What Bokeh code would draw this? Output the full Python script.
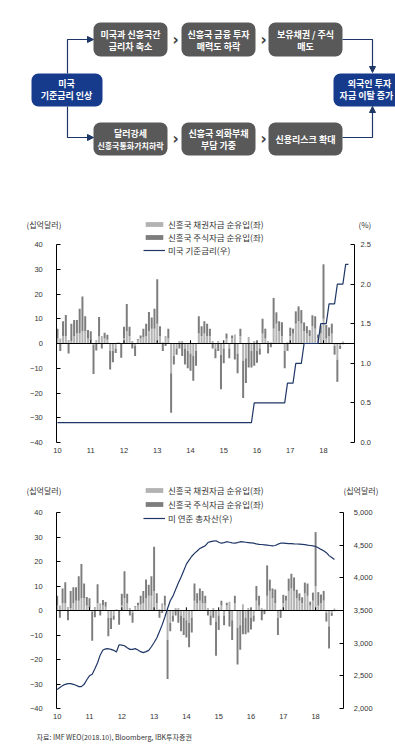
import numpy as np
from bokeh.plotting import figure
from bokeh.layouts import column
from bokeh.models import (Range1d, LinearAxis, Legend, LegendItem, Label,
                          FixedTicker, NumeralTickFormatter, Arrow, NormalHead)
from bokeh.core.properties import value
from bokeh.embed import file_html
from bokeh.resources import INLINE

KR = "Noto Sans CJK KR"
NUM = "Liberation Sans"

# ---------------- data (monthly, Jan 2010 = month 0) ----------------
start_year = 2010
bond = [2, 2, 3, 3, 1.4, 1, 3, 4, 4, 5, 5, 2,
        1, -0.5, 1.4, 3, 3, 2, 1.5, -3, -3, -2, 0.5, 0,
        2, 5, 3, 1, -1, 1.5, 2, 2.5, 3, 5, 6, 6,
        8, 3, 0.5, 3, 2, -12, -5, -2, 1, 1, -2, -3,
        -4, -5, -3, 4, 3, 4, 3, 3, 1, -2, 1, -4.5,
        -2, 2, -2, 2, 3.6, -4, 3, -7, -6, 2.6, -3, 1,
        -3, -2, 4, 2, 1, 0.5, 6, 8, 5, 3, -3, 0.5,
        3, 4, 8, 9, 8, 5, 4, 3, 7, 6, 2, 4,
        10, 2, 3, 4, -1, -6.5, -1, 0.8]
equity = [4, -3, 6, 8.5, -4, 7, 6.5, 5.5, 10, 14, 6, 3.5,
          4, -11.8, -2.8, 7.7, -2, 2.3, 2, -7.5, -4.6, -1.8, 0, -5.8,
          4.8, 11, 3.8, -2, -4, 0.3, 1.2, 3.5, 5, 7.7, 4.5, 8,
          18, 4, -3, -1, 4, -16, -3.5, -2.5, -2, -5, -6.5, -7,
          -7, -10, -6, 7, 4, 5, 5, 3, -2, -4, -3, -14,
          -6, 2, -4, 1.2, -6.5, -8, 3, -15, -10, -9.7, -6.7, -9,
          -4.8, -2.5, 6, 4, -4, -1.5, 12.4, 4.6, 4, 5.6, -7, -3,
          3.4, 2, 5, 6, 5.5, 3.5, 3, 2.4, 4.4, 5, 1.6, 3.3,
          22, 5.5, 3.5, 4, -3.5, -9, -1.2, -0.3]
fed_rate = [
    0.25, 0.25, 0.25, 0.25, 0.25, 0.25, 0.25, 0.25, 0.25, 0.25, 0.25, 0.25,
    0.25, 0.25, 0.25, 0.25, 0.25, 0.25, 0.25, 0.25, 0.25, 0.25, 0.25, 0.25,
    0.25, 0.25, 0.25, 0.25, 0.25, 0.25, 0.25, 0.25, 0.25, 0.25, 0.25, 0.25,
    0.25, 0.25, 0.25, 0.25, 0.25, 0.25, 0.25, 0.25, 0.25, 0.25, 0.25, 0.25,
    0.25, 0.25, 0.25, 0.25, 0.25, 0.25, 0.25, 0.25, 0.25, 0.25, 0.25, 0.25,
    0.25, 0.25, 0.25, 0.25, 0.25, 0.25, 0.25, 0.25, 0.25, 0.25, 0.25, 0.5,
    0.5, 0.5, 0.5, 0.5, 0.5, 0.5, 0.5, 0.5, 0.5, 0.5, 0.5, 0.75,
    0.75, 0.75, 1.0, 1.0, 1.0, 1.25, 1.25, 1.25, 1.25, 1.25, 1.25, 1.5,
    1.5, 1.5, 1.75, 1.75, 1.75, 2.0, 2.0, 2.0, 2.25, 2.25]
fed_assets = [
    2290, 2320, 2350, 2370, 2381, 2381, 2370, 2355, 2335, 2335, 2370, 2440,
    2500, 2524, 2610, 2700, 2820, 2895, 2912, 2915, 2905, 2890, 2864, 2976,
    2970, 2960, 2930, 2905, 2905, 2916, 2895, 2870, 2855, 2870, 2890, 2945,
    3010, 3080, 3180, 3280, 3400, 3530, 3650, 3720, 3820, 3920, 4010, 4110,
    4210, 4270, 4330, 4375, 4410, 4450, 4470, 4490, 4540, 4555, 4562, 4568,
    4545, 4530, 4540, 4553, 4545, 4535, 4530, 4540, 4553, 4550, 4545, 4540,
    4535, 4530, 4520, 4512, 4510, 4505, 4500, 4495, 4490, 4495, 4515, 4530,
    4530, 4528, 4525, 4525, 4520, 4518, 4515, 4512, 4508, 4500, 4495, 4490,
    4480, 4460, 4435, 4415, 4385, 4340, 4310, 4280]

year_ticks = [2010, 2011, 2012, 2013, 2014, 2015, 2016, 2017, 2018]
year_labels = ["10", "11", "12", "13", "14", "15", "16", "17", "18"]
left_ticks = [-40, -30, -20, -10, 0, 10, 20, 30, 40]
rate_ticks = [0.0, 0.5, 1.0, 1.5, 2.0, 2.5]
asset_ticks = [2000, 2500, 3000, 3500, 4000, 4500, 5000]

legend_bond = "신흥국 채권자금 순유입(좌)"
legend_equity = "신흥국 주식자금 순유입(좌)"

# ---------------- colours ----------------
LIGHT = "#b3b3b3"
DARK = "#7d7d7d"
NAVY_LINE = "#1f3766"
NAVY_BOX = "#173b8c"
GRAY_BOX = "#595959"
TXT = "#333333"


def month_x(n):
    return [start_year + m / 12 for m in range(n)]


b = np.array(bond, dtype=float)
e = np.array(equity, dtype=float)
bp = np.maximum(b, 0)
bn = np.minimum(b, 0)
eq_bottom = np.where(e >= 0, bp, bn + e)
eq_top = np.where(e >= 0, bp + e, bn)
bar_x = month_x(len(bond))
BAR_W = 0.06

W = 395


def chart(height, px_year, x0_px, axis_left_px, axis_right_px, top_px, bottom_px,
          r_min, r_max, r_ticks, r_fmt, line_vals, line_label,
          left_standoff, right_standoff, legend_loc, legend_spacing):
    # frame spans the whole figure; axes are pinned at fixed data locations
    x_start = start_year - x0_px / px_year
    x_end = start_year + (W - x0_px) / px_year
    x_left_axis = start_year - (x0_px - axis_left_px) / px_year
    x_right_axis = start_year + (axis_right_px - x0_px) / px_year
    ppu = (bottom_px - top_px) / 80.0
    y_top = 40 + top_px / ppu
    y_bot = -40 - (height - bottom_px) / ppu
    rppu = (bottom_px - top_px) / (r_max - r_min)
    r_top = r_max + top_px / rppu
    r_bot = r_min - (height - bottom_px) / rppu

    p = figure(width=W, height=height, output_backend="svg", toolbar_location=None,
               x_range=Range1d(x_start, x_end), y_range=Range1d(y_bot, y_top),
               min_border=0)
    p.outline_line_color = None
    p.grid.visible = False
    p.extra_y_ranges = {"r": Range1d(r_bot, r_top)}

    rb = p.vbar(x=bar_x, width=BAR_W, bottom=list(bn), top=list(bp),
                fill_color=LIGHT, line_color=None)
    re = p.vbar(x=bar_x, width=BAR_W, bottom=list(eq_bottom), top=list(eq_top),
                fill_color=DARK, line_color=None)
    p.segment(x0=[x_left_axis], y0=[0], x1=[x_right_axis], y1=[0],
              line_color="black", line_width=1)
    p.segment(x0=year_ticks[1:], y0=0, x1=year_ticks[1:], y1=1.3,
              line_color="black", line_width=1)
    rl = p.line(month_x(len(line_vals)), line_vals, y_range_name="r",
                line_color=NAVY_LINE, line_width=1.2)

    ly = p.yaxis[0]
    ly.fixed_location = x_left_axis
    ly.bounds = (-40, 40)
    ly.ticker = FixedTicker(ticks=left_ticks)
    ly.major_label_standoff = left_standoff
    ry = LinearAxis(y_range_name="r", ticker=FixedTicker(ticks=r_ticks),
                    formatter=NumeralTickFormatter(format=r_fmt))
    ry.fixed_location = x_right_axis
    ry.bounds = (r_min, r_max)
    ry.major_label_standoff = right_standoff
    p.add_layout(ry, "right")
    for ax in (ly, ry):
        ax.axis_line_color = "black"
        ax.axis_line_width = 1
        ax.major_tick_in = 4
        ax.major_tick_out = 0
        ax.major_tick_line_color = "black"
        ax.minor_tick_line_color = None
        ax.major_label_text_font = NUM
        ax.major_label_text_font_size = "7.5px"
        ax.major_label_text_color = TXT

    xa = p.xaxis[0]
    xa.fixed_location = -40
    xa.ticker = FixedTicker(ticks=year_ticks)
    xa.major_label_overrides = {t: l for t, l in zip(year_ticks, year_labels)}
    xa.axis_line_color = None
    xa.major_tick_line_color = None
    xa.major_tick_in = 0
    xa.major_tick_out = 0
    xa.minor_tick_line_color = None
    xa.minor_tick_in = 0
    xa.minor_tick_out = 0
    xa.major_label_standoff = 5
    xa.major_label_text_font = NUM
    xa.major_label_text_font_size = "7.5px"
    xa.major_label_text_color = TXT

    legend = Legend(items=[LegendItem(label=legend_bond, renderers=[rb]),
                           LegendItem(label=legend_equity, renderers=[re]),
                           LegendItem(label=line_label, renderers=[rl])],
                    location=legend_loc, orientation="vertical",
                    glyph_width=22, glyph_height=6, label_height=12,
                    spacing=legend_spacing, padding=0, margin=0, label_standoff=3,
                    background_fill_alpha=0, border_line_alpha=0,
                    label_text_font=KR, label_text_font_size="8.5px",
                    label_text_color=TXT)
    p.add_layout(legend)
    return p


def header(p, x, y, text, size="8px"):
    p.add_layout(Label(x=x, y=y, x_units="screen", y_units="screen",
                       text=text, text_font=KR, text_font_size=size,
                       text_color=TXT, text_baseline="middle", text_align="left"))


# chart 1: page rows 190..470, frame 40 at y=244, -40 at y=442
p1 = chart(280, 33.25, 57, 56.3, 354, 54, 252, 0, 2.5, rate_ticks, "0.0",
           fed_rate, "미국 기준금리(우)", 14, 6, (143, 214), 1)
header(p1, 26, 246, "(십억달러)")
header(p1, 358, 246, "(%)")

# chart 2: page rows 470..744, frame 40 at y=512, -40 at y=708
p2 = chart(274, 32.3, 56.7, 56.2, 343.3, 42, 238, 2000, 5000, asset_ticks, "0,0",
           fed_assets, "미 연준 총자산(우)", 14, 10, (143, 220), 2)
header(p2, 26, 254, "(십억달러)")
header(p2, 343, 254, "(십억달러)")
header(p2, 36, 8, "자료: IMF WEO(2018.10), Bloomberg, IBK투자증권", "7px")

# ---------------- flow diagram ----------------
fp = figure(width=W, height=190, output_backend="svg", toolbar_location=None,
            x_range=Range1d(0, W), y_range=Range1d(190, 0),
            x_axis_location=None, y_axis_location=None, min_border=0)
fp.grid.visible = False
fp.outline_line_color = None

g_left = [93, 181, 268, 93, 181, 268]
g_right = [167, 255, 342, 167, 255, 342]
g_top = [22, 22, 22, 122, 122, 122]
g_bottom = [56, 56, 56, 155, 155, 155]
fp.quad(left=g_left, right=g_right, top=g_top, bottom=g_bottom,
        fill_color=GRAY_BOX, line_color=None, border_radius=7)
fp.quad(left=[31, 333], right=[102, 410], top=[73, 73], bottom=[106, 106],
        fill_color=NAVY_BOX, line_color=None, border_radius=7)

fp.multi_line(xs=[[67, 67, 88], [67, 67, 88], [342, 372, 372], [342, 372, 372]],
              ys=[[73, 39, 39], [106, 137, 137], [39, 39, 67], [137, 137, 111]],
              line_color=NAVY_LINE, line_width=1.2)
for xs, ys, xe, ye in [(86, 39, 93, 39), (86, 137, 93, 137),
                       (372, 65, 372, 72), (372, 113, 372, 106)]:
    fp.add_layout(Arrow(x_start=xs, y_start=ys, x_end=xe, y_end=ye,
                        line_color=NAVY_LINE, line_width=1.2,
                        end=NormalHead(size=6, fill_color=NAVY_LINE,
                                       line_color=NAVY_LINE)))


def ftext(x, y, t, size="9px"):
    fp.text(x=[x], y=[y], text=[t], text_font=value(KR), text_font_style="bold",
            text_font_size=size, text_color="white", text_align="center",
            text_baseline="middle")


ftext(130, 33.5, "미국과 신흥국간"); ftext(130, 45.5, "금리차 축소")
ftext(218, 33.5, "신흥국 금융 투자"); ftext(218, 45.5, "매력도 하락")
ftext(305, 33.5, "보유채권 / 주식"); ftext(305, 45.5, "매도")
ftext(130, 132.5, "달러강세"); ftext(130, 144.5, "신흥국통화가치하락", "8px")
ftext(218, 132.5, "신흥국 외화부채"); ftext(218, 144.5, "부담 가중")
ftext(305, 138.5, "신용리스크 확대")
ftext(66, 83, "미국"); ftext(66, 95, "기준금리 인상")
ftext(369, 83, "외국인 투자"); ftext(366, 95, "자금 이탈 증가")

fp.text(x=[175, 263, 175, 263], y=[39, 39, 138, 138], text=["›", "›", "›", "›"],
        text_font=value("DejaVu Sans"), text_font_style="bold", text_font_size="15px",
        text_color="#3a3a3a", text_align="center", text_baseline="middle")

layout = column(fp, p1, p2, spacing=0)
open("out.html", "w").write(file_html(layout, INLINE))
